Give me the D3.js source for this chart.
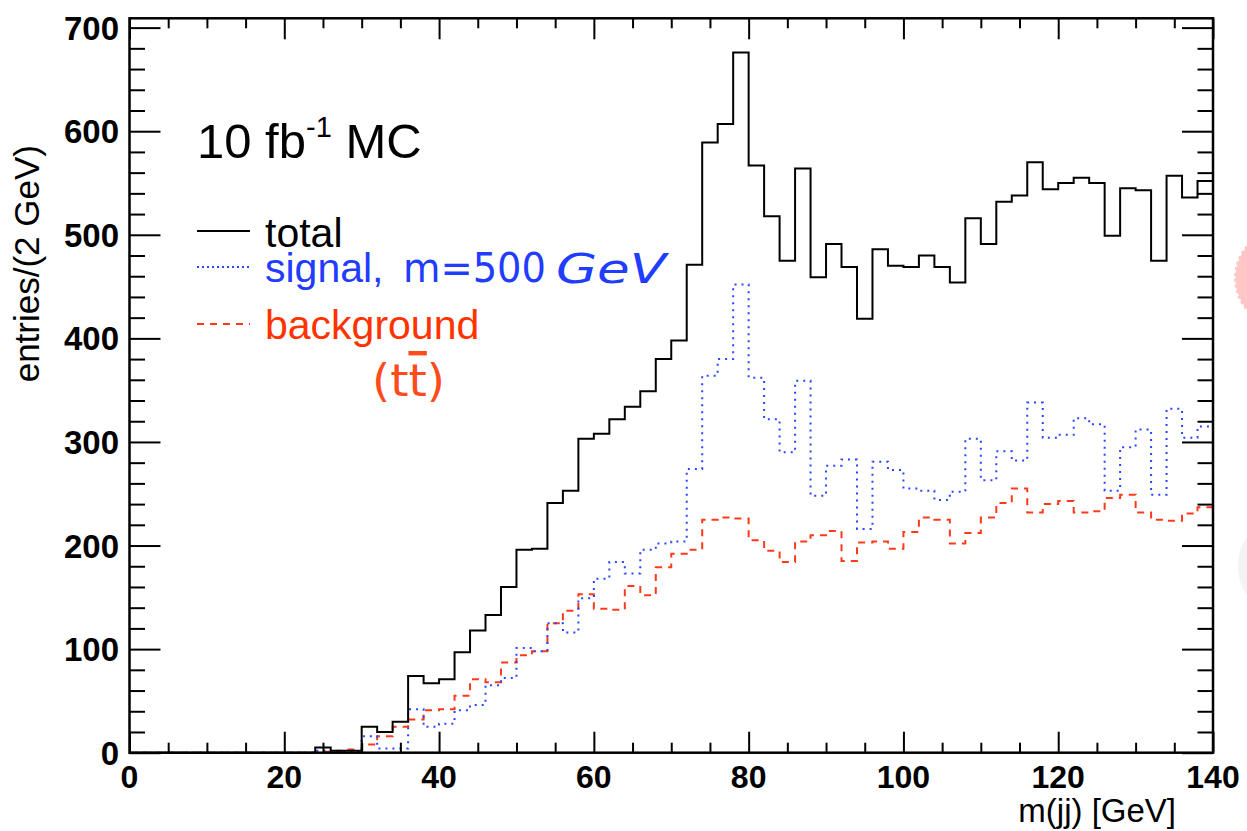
<!DOCTYPE html>
<html>
<head>
<meta charset="utf-8">
<script src="https://d3js.org/d3.v7.min.js"></script>
<style>
  body { margin: 0; background: #fff; }
  svg { display: block; }
</style>
</head>
<body>
<svg id="chart" width="1247" height="831"></svg>
<script>
// 2 GeV bins from 0 to 140
var binWidth = 2;
var total = [0,0,0,0,0,0,0,0,0,0,0,0, 5,2,2,25,20,30,74,67,71,97,118,133,160,196,197,241,253,303,
  308,322,334,349,380,398,471,589,607,676,567,518,475,564,459,491,469,419,486,470,
  469,480,469,454,516,491,532,538,570,544,550,555,550,499,545,543,475,557,536,552];
var signal = [0,0,0,0,0,0,0,0,0,0,0,0, 2,1,1,16,4,4,42,25,28,41,46,65,72,101,98,125,116,149,
  168,184,173,196,202,204,274,364,380,452,362,322,290,359,248,277,283,216,281,273,
  255,253,244,252,303,263,291,282,338,304,307,323,317,253,295,312,249,332,304,315];
var background = [0,0,0,0,0,0,0,0,0,0,0,0, 1,2,3,8,16,25,32,41,42,55,71,68,87,94,98,125,137,153,
  139,138,161,152,179,192,196,225,227,226,205,195,184,204,210,214,185,203,204,197,
  213,227,225,202,212,227,241,255,232,240,243,232,233,246,249,232,225,224,231,237];

var xMajor = [0, 20, 40, 60, 80, 100, 120, 140];
var yMajor = [0, 100, 200, 300, 400, 500, 600, 700];

(function() {
var svg = d3.select("#chart");
var frameL = 129.5, frameR = 1213, frameT = 18.3, frameB = 752.7;

var x = d3.scaleLinear().domain([0, 140]).range([frameL, frameR]);
var y = d3.scaleLinear().domain([0, 709]).range([frameB, frameT]);

// decorations at the right edge of the slide
svg.append("circle").attr("cx", 1290).attr("cy", 566).attr("r", 52)
  .attr("fill", "#f3f3f3");
svg.append("circle").attr("cx", 1284).attr("cy", 278).attr("r", 50)
  .attr("fill", "#ffc6c6").attr("stroke", "#fff").attr("stroke-width", 3)
  .attr("stroke-dasharray", "3,3");

function histPath(vals) {
  var pts = vals.map(function(v, i) { return [i * binWidth, v]; });
  pts.push([vals.length * binWidth, vals[vals.length - 1]]);
  return d3.line()
    .x(function(d) { return x(d[0]); })
    .y(function(d) { return y(d[1]); })
    .curve(d3.curveStepAfter)(pts);
}

var g = svg.append("g");
g.append("path").attr("d", histPath(background))
  .attr("fill", "none").attr("stroke", "#ff3a1a").attr("stroke-width", 2)
  .attr("stroke-dasharray", "7,6");
g.append("path").attr("d", histPath(signal))
  .attr("fill", "none").attr("stroke", "#2b45ff").attr("stroke-width", 2)
  .attr("stroke-dasharray", "2,5");
g.append("path").attr("d", histPath(total))
  .attr("fill", "none").attr("stroke", "#000").attr("stroke-width", 2);

// axes, ticks pointing inward on all four sides
var xMinor = d3.range(0, 141, 5).filter(function(v) { return v % 20; });
var yMinor = d3.range(0, 701, 20).filter(function(v) { return v % 100; });

function tickAxis(axisFn, scale, vals, size, tr) {
  svg.append("g").attr("transform", tr)
    .call(axisFn(scale).tickValues(vals).tickSize(-size).tickFormat(""))
    .call(function(s) {
      s.select(".domain").remove();
      s.selectAll("line").attr("stroke", "#000").attr("stroke-width", 2);
    });
}
tickAxis(d3.axisBottom, x, xMajor, 21, "translate(0," + frameB + ")");
tickAxis(d3.axisBottom, x, xMinor, 10, "translate(0," + frameB + ")");
tickAxis(d3.axisTop, x, xMajor, 21, "translate(0," + frameT + ")");
tickAxis(d3.axisTop, x, xMinor, 10, "translate(0," + frameT + ")");
tickAxis(d3.axisLeft, y, yMajor, 31, "translate(" + frameL + ",0)");
tickAxis(d3.axisLeft, y, yMinor, 15.5, "translate(" + frameL + ",0)");
tickAxis(d3.axisRight, y, yMajor, 31, "translate(" + frameR + ",0)");
tickAxis(d3.axisRight, y, yMinor, 15.5, "translate(" + frameR + ",0)");

svg.append("rect").attr("x", frameL).attr("y", frameT)
  .attr("width", frameR - frameL).attr("height", frameB - frameT)
  .attr("fill", "none").attr("stroke", "#000").attr("stroke-width", 2.5);

var labelFont = "'Liberation Sans', Arial, sans-serif";
var comicFont = "'DejaVu Sans', sans-serif";

svg.append("g").selectAll("text").data(xMajor).join("text")
  .attr("x", function(d) { return x(d); }).attr("y", 788)
  .attr("text-anchor", "middle").attr("font-family", labelFont)
  .attr("font-weight", "bold").attr("font-size", 32)
  .text(function(d) { return d; });

svg.append("g").selectAll("text").data(yMajor).join("text")
  .attr("x", 119).attr("y", function(d) { return y(d) + 12; })
  .attr("text-anchor", "end").attr("font-family", labelFont)
  .attr("font-weight", "bold").attr("font-size", 33)
  .text(function(d) { return d; });

svg.append("text").attr("x", 1176).attr("y", 822)
  .attr("text-anchor", "end").attr("font-family", labelFont)
  .attr("font-size", 33).text("m(jj) [GeV]");

svg.append("text").attr("transform", "translate(39,145) rotate(-90)")
  .attr("text-anchor", "end").attr("font-family", labelFont)
  .attr("font-size", 35).text("entries/(2 GeV)");

// luminosity label
var lumi = svg.append("text").attr("x", 197).attr("y", 158)
  .attr("font-family", labelFont).attr("font-size", 49);
lumi.append("tspan").text("10 fb");
lumi.append("tspan").attr("font-size", 29).attr("dy", -21).text("-1");
lumi.append("tspan").attr("dy", 21).text(" MC");

// legend
var legend = svg.append("g").attr("font-family", labelFont).attr("font-size", 41);
legend.append("line").attr("x1", 197).attr("x2", 250).attr("y1", 231).attr("y2", 231)
  .attr("stroke", "#000").attr("stroke-width", 2);
legend.append("text").attr("x", 265).attr("y", 247).text("total");

legend.append("line").attr("x1", 197).attr("x2", 250).attr("y1", 267).attr("y2", 267)
  .attr("stroke", "#2b45ff").attr("stroke-width", 2).attr("stroke-dasharray", "2,3");
var sig = legend.append("g").attr("fill", "#1f3cff");
sig.append("text").attr("x", 265).attr("y", 282).text("signal,");
sig.append("text").attr("x", 403).attr("y", 282).attr("font-family", comicFont)
  .attr("font-size", 40).attr("textLength", 143).attr("lengthAdjust", "spacingAndGlyphs")
  .text("m=500");
sig.append("text").attr("x", 556).attr("y", 283).attr("font-family", comicFont)
  .attr("font-size", 40).attr("font-style", "italic")
  .attr("textLength", 110).attr("lengthAdjust", "spacingAndGlyphs").text("GeV");

legend.append("line").attr("x1", 197).attr("x2", 250).attr("y1", 324).attr("y2", 324)
  .attr("stroke", "#ff3a1a").attr("stroke-width", 2).attr("stroke-dasharray", "7,6");
legend.append("text").attr("x", 265).attr("y", 339).attr("fill", "#ff3300").text("background");

var tt = legend.append("text").attr("x", 372).attr("y", 396).attr("fill", "#ff4a1c")
  .attr("font-family", comicFont).attr("font-size", 44)
  .attr("textLength", 73).attr("lengthAdjust", "spacingAndGlyphs");
tt.append("tspan").text("(t");
tt.append("tspan").attr("text-decoration", "overline").text("t");
tt.append("tspan").text(")");
})();
</script>
</body>
</html>
